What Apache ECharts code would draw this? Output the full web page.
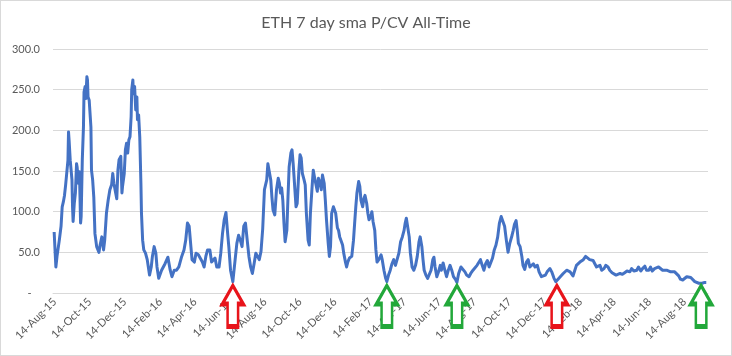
<!DOCTYPE html>
<html><head><meta charset="utf-8">
<script src="https://cdn.jsdelivr.net/npm/echarts@6/dist/echarts.min.js"></script>
<style>html,body{margin:0;padding:0;background:#fff}#c{width:732px;height:356px;box-sizing:border-box;border:1px solid #d9d9d9}</style>
</head><body><div id="c"></div>
<script>
const chartTitle = 'ETH 7 day sma P/CV All-Time';
const startDate = '2015-08-11';
const endDate = '2018-09-24';
// days after startDate
const dayOffsets = [2,5,7,11,14,16,18,20,22,24,26,27,28,30,33,34,35,37,39,41,42,44,46,48,49,51,53,54,56,57,59,60,61,63,66,67,69,71,73,76,80,82,85,88,90,93,96,99,102,104,106,108,111,113,115,118,120,121,124,126,128,130,132,134,136,137,139,140,142,144,146,147,149,151,153,154,156,158,161,164,168,171,173,176,179,181,184,
189,195,200,204,207,211,215,219,224,228,231,234,237,240,242,246,249,253,256,260,263,266,269,273,276,279,282,285,289,292,295,298,301,304,306,309,313,317,320,323,326,329,332,335,338,341,344,347,350,353,356,359,362,365,368,
372,374,376,379,381,383,386,389,392,394,396,398,400,402,404,407,409,411,414,416,418,421,423,425,428,430,432,434,437,439,441,444,446,448,451,453,455,458,460,462,465,467,469,472,474,476,479,481,483,485,488,490,492,495,497,499,502,504,506,509,511,513,516,518,520,523,525,527,529,532,534,536,539,541,543,546,548,550,553,555,557,560,562,564,
567,571,573,576,579,581,584,587,590,593,596,599,602,605,608,611,613,615,618,620,622,625,628,631,634,637,639,642,644,646,649,652,655,658,661,663,665,668,671,674,676,679,682,685,688,691,694,697,701,703,706,710,713,717,720,724,727,731,734,738,741,744,747,750,753,756,759,762,765,768,771,774,777,780,782,786,789,792,795,799,801,803,806,808,810,813,816,818,821,824,827,830,833,836,839,843,846,850,853,857,860,865,868,872,875,879,882,
888,894,900,905,911,917,923,927,934,940,943,946,949,952,955,959,962,966,969,973,976,980,983,987,991,995,999,1004,1007,1011,1016,1019,1023,1026,1030,1033,1037,1040,1043,1047,1050,1054,1057,1061,1064,1068,1071,1075,1078,1082,1085,1089,1092,1096,1099,1103,1106,1110,1113,1117,1120,1124,1127,1130,1134,1137];
const values = [75,32,45,65,82,106,112,120,133,135,163,198,188,163,139,106,88,110,123,159,155,135,149,86,94,164,204,247,254,239,266,262,241,237,204,151,139,118,73,57,50,59,69,53,65,98,114,127,133,147,135,127,116,151,164,168,123,131,147,176,184,172,188,192,217,250,262,245,254,225,241,213,219,192,135,98,65,53,49,41,22,32,45,57,49,32,18,
28,36,44,28,20,28,28,32,45,53,65,86,82,57,41,38,49,47,45,38,32,45,53,53,38,36,43,32,32,49,73,90,99,73,57,28,14,41,61,71,65,57,82,86,65,45,32,24,36,49,45,41,51,79,127,
139,159,151,139,118,102,96,127,141,135,123,129,114,86,63,77,118,155,172,176,159,127,106,110,151,170,166,147,139,133,98,65,59,98,131,151,143,145,125,141,135,127,145,135,114,90,61,45,57,98,106,108,98,80,77,69,63,59,49,38,32,38,43,43,45,65,86,106,123,137,131,114,106,116,120,110,98,90,94,100,88,77,53,38,
41,47,41,28,18,14,22,28,36,41,34,32,49,63,69,77,86,92,90,69,49,32,28,34,45,63,69,57,41,28,22,18,20,28,41,44,32,20,26,34,28,37,28,20,28,34,28,20,16,13,24,32,30,26,22,20,24,28,30,34,36,41,34,28,36,40,32,30,43,53,59,69,86,94,95,82,65,50,61,71,77,84,89,77,61,57,45,34,29,38,41,32,30,36,32,34,26,20,21,22,26,30,26,18,14,17,19,
24,28,26,21,34,38,41,45,41,40,41,32,30,34,28,30,34,32,28,25,23,22,23,24,23,25,27,26,30,27,28,32,27,30,33,28,28,32,27,30,30,32,30,28,27,28,27,26,27,26,24,21,17,16,18,20,21,19,17,14,12,12,13,12,13,13];
const tickDates = ['2015-08-14','2015-10-14','2015-12-14','2016-02-14','2016-04-14','2016-06-14','2016-08-14','2016-10-14','2016-12-14','2017-02-14','2017-04-14','2017-06-14','2017-08-14','2017-10-14','2017-12-14','2018-02-14','2018-04-14','2018-06-14','2018-08-14'];
const arrowDays = [313, 581, 703, 877, 1128];
const arrowColors = ['#e8141b', '#22a83a', '#22a83a', '#e8141b', '#22a83a'];

const DAY = 86400000;
const MON = ['Jan','Feb','Mar','Apr','May','Jun','Jul','Aug','Sep','Oct','Nov','Dec'];
function ts(s){ const p = s.split('-').map(Number); return Date.UTC(p[0], p[1]-1, p[2]); }
function fmt(v){ const d = new Date(v); return d.getUTCDate() + '-' + MON[d.getUTCMonth()] + '-' + String(d.getUTCFullYear()).slice(2); }
const t0 = ts(startDate);
const seriesData = dayOffsets.map((o, i) => [t0 + o*DAY, values[i]]);
const arrowPath = 'path://M10,0 L20,18 L15,18 L15,40 L5,40 L5,18 L0,18 Z';
const FONT = 'Lato, "Noto Sans", sans-serif';

const chart = echarts.init(document.getElementById('c'), null, {renderer: 'canvas'});
chart.setOption({
  animation: false,
  backgroundColor: '#fff',
  title: { text: chartTitle, left: 'center', top: 9,
    textStyle: { fontFamily: FONT, fontSize: 16, fontWeight: 'normal', color: '#595959' } },
  grid: { left: 52, right: 23, top: 48, bottom: 62, containLabel: false },
  xAxis: { type: 'value', min: t0, max: ts(endDate), scale: true,
    splitLine: { show: false },
    axisTick: { show: false },
    axisLine: { lineStyle: { color: '#d9d9d9', width: 1 } },
    axisLabel: { customValues: tickDates.map(ts), formatter: (v) => fmt(v), rotate: 45, margin: 7,
      hideOverlap: false, showMinLabel: true, showMaxLabel: true, color: '#595959', fontSize: 11, fontFamily: FONT } },
  yAxis: { type: 'value', min: 0, max: 300, interval: 50,
    axisLine: { show: false }, axisTick: { show: false },
    splitLine: { lineStyle: { color: '#d9d9d9', width: 1 } },
    axisLabel: { margin: 13, color: '#595959', fontSize: 11, fontFamily: FONT,
      formatter: (v) => v === 0 ? '-   ' : v.toFixed(1) } },
  series: [{
    type: 'line', data: seriesData, showSymbol: false, symbol: 'none',
    lineStyle: { color: '#4472C4', width: 3, join: 'round' },
    itemStyle: { color: '#4472C4' },
    markPoint: {
      silent: true,
      data: arrowDays.map((o, i) => ({
        coord: [t0 + o*DAY, 0],
        symbol: arrowPath, symbolSize: [21, 41], symbolOffset: [0, 13],
        itemStyle: { color: '#fff', borderColor: arrowColors[i], borderWidth: 3.5 },
        label: { show: false }
      }))
    }
  }]
});
</script></body></html>
